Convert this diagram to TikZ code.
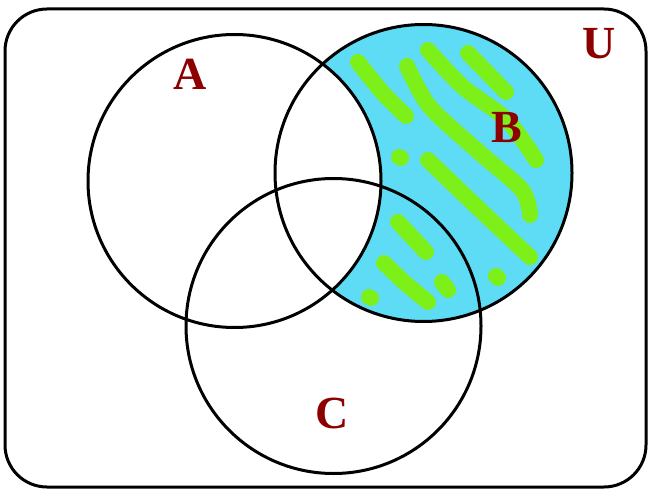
\documentclass[tikz,border=0pt]{standalone}
\usepackage{fontspec}
\setmainfont{Liberation Serif}
\definecolor{lbl}{RGB}{140,0,0}
\definecolor{cyanfill}{RGB}{95,220,245}
\definecolor{stripe}{RGB}{125,240,25}
\tikzset{
  setline/.style={line width=3pt,black},
  setlabel/.style={text=lbl,font=\bfseries\fontsize{46}{50}\selectfont,inner sep=0pt},
  blob/.style={stripe,line width=16pt,line cap=round,line join=round}
}
\begin{document}
\begin{tikzpicture}[x=1pt,y=-1pt]
\useasboundingbox (0,0) rectangle (650,489);
\coordinate (cA) at (234.5,181);
\coordinate (cB) at (423.5,173);
\coordinate (cC) at (333.5,326);
% shaded B minus A
\fill[cyanfill] (cB) circle (148.5);
\begin{scope}
  \clip (cB) circle (147);
  \draw[blob] plot[smooth] coordinates {(358,62) (382,92) (406,116)};
  \draw[blob] plot[smooth] coordinates {(407,66) (430,107) (480,153) (522,190) (530,215)};
  \draw[blob] plot[smooth] coordinates {(428,50) (463,87) (507,120) (536,160)};
  \draw[blob] plot[smooth] coordinates {(468,53) (506,92)};
  \draw[blob] (399,157) -- (401,158);
  \draw[blob] plot[smooth] coordinates {(428,160) (477,207) (530,257)};
  \draw[blob] (398,222) -- (426,252);
  \draw[blob] plot[smooth] coordinates {(384,263) (405,283) (428,302)};
  \draw[blob] (369,297) -- (371,298);
  \draw[blob] (442,282) -- (448,290);
  \draw[blob] (496,276) -- (498,278);
\end{scope}
\fill[white] (cA) circle (146.5);
% universe
\draw[setline,rounded corners=42pt] (5,9) rectangle (646,487);
% circles
\draw[setline] (cA) circle (146.5);
\draw[setline] (cB) circle (148.5);
\draw[setline] (cC) circle (147.5);
% labels
\node[setlabel] (lA) at (190,74) {A};
\node[setlabel] (lB) at (507,128) {B};
\node[setlabel] (lC) at (332,413) {C};
\node[setlabel] (lU) at (599,44) {U};
\end{tikzpicture}
\end{document}
